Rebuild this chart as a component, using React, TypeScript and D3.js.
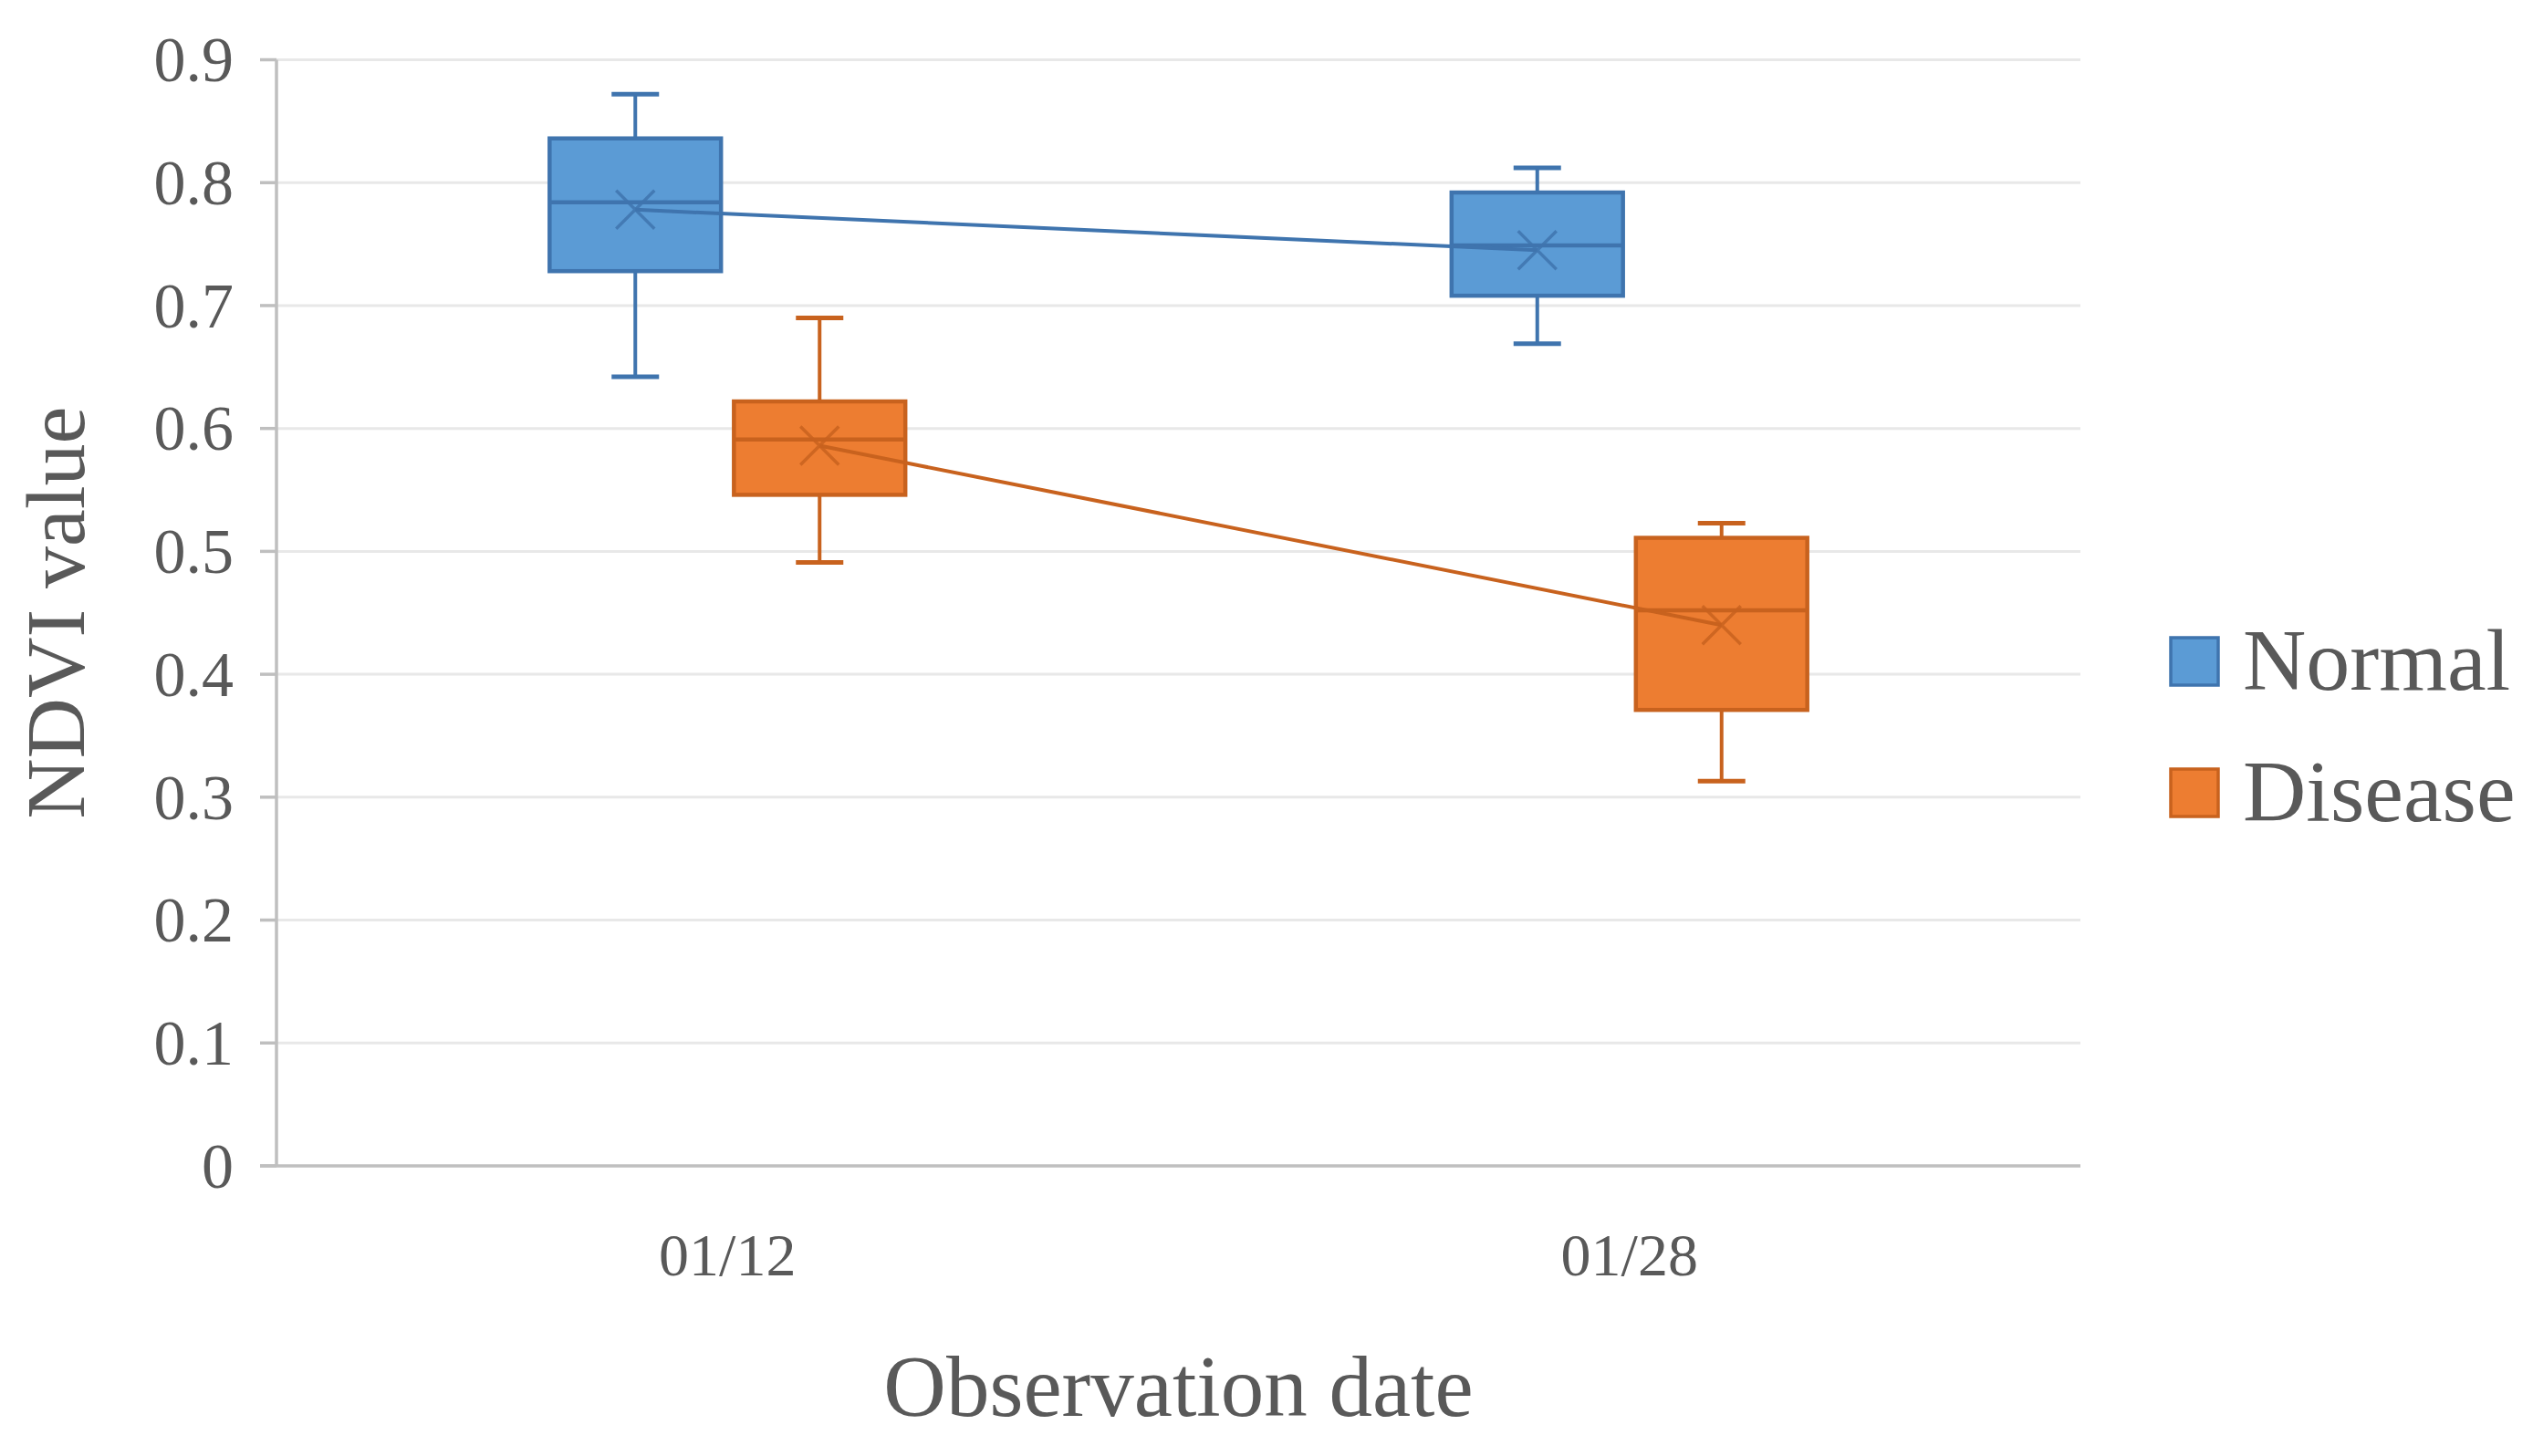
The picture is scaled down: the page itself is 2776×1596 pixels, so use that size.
import React, { useEffect, useRef } from 'react';
import * as d3 from 'd3';

// categories and series
const dates = ['01/12', '01/28'];
const seriesNames = ['Normal', 'Disease'];
const seriesFill = ['#5B9BD5', '#ED7D31'];
const seriesStroke = ['#3F74AE', '#C8621E'];

// box plot values (per date)
const normalMax = [0.872, 0.812];
const normalQ3 = [0.836, 0.792];
const normalMedian = [0.784, 0.749];
const normalMean = [0.778, 0.745];
const normalQ1 = [0.728, 0.708];
const normalMin = [0.642, 0.669];

const diseaseMax = [0.69, 0.523];
const diseaseQ3 = [0.622, 0.511];
const diseaseMedian = [0.591, 0.452];
const diseaseMean = [0.586, 0.44];
const diseaseQ1 = [0.546, 0.371];
const diseaseMin = [0.491, 0.313];

const yTicks = [0, 0.1, 0.2, 0.3, 0.4, 0.5, 0.6, 0.7, 0.8, 0.9];

const W = 2776;
const H = 1596;
const FONT = '"Liberation Serif", "DejaVu Serif", serif';
const TEXT = '#595959';

const App: React.FC = () => {
  const svgRef = useRef<SVGSVGElement>(null);

  useEffect(() => {
    document.body.style.margin = '0';
    if (!svgRef.current) return;
    const svg = d3.select(svgRef.current);
    svg.selectAll('*').remove();

    const left = 303;
    const right = 2280;
    const top = 65.5;
    const bottom = 1278;

    const x0 = d3.scaleBand<string>().domain(dates).range([left, right]);
    const bw = x0.bandwidth();
    const x1 = d3.scaleBand<string>()
      .domain(seriesNames)
      .range([bw / 2 - 202, bw / 2 + 202])
      .paddingInner(0.07)
      .paddingOuter(0.035);
    const y = d3.scaleLinear().domain([0, 0.9]).range([bottom, top]);

    svg.append('rect').attr('width', W).attr('height', H).attr('fill', '#ffffff');

    // gridlines
    svg.append('g')
      .selectAll('line')
      .data(yTicks.filter(t => t > 0))
      .join('line')
      .attr('x1', left)
      .attr('x2', right)
      .attr('y1', d => y(d))
      .attr('y2', d => y(d))
      .attr('stroke', '#e8e8e8')
      .attr('stroke-width', 3);

    // y axis
    const yAxis = svg.append('g');
    yAxis.append('line')
      .attr('x1', left).attr('x2', left)
      .attr('y1', top).attr('y2', bottom)
      .attr('stroke', '#bfbfbf').attr('stroke-width', 3.5);
    yAxis.selectAll('line.tick')
      .data(yTicks)
      .join('line')
      .attr('class', 'tick')
      .attr('x1', left - 18).attr('x2', left)
      .attr('y1', d => y(d)).attr('y2', d => y(d))
      .attr('stroke', '#bfbfbf').attr('stroke-width', 3.5);
    yAxis.selectAll('text')
      .data(yTicks)
      .join('text')
      .attr('x', 256)
      .attr('y', d => y(d))
      .attr('dy', '0.34em')
      .attr('text-anchor', 'end')
      .style('font-family', FONT)
      .style('font-size', '70px')
      .style('fill', TEXT)
      .text(d => (d === 0 ? '0' : d3.format('.1f')(d)));

    // x axis
    svg.append('line')
      .attr('x1', left - 18).attr('x2', right)
      .attr('y1', bottom).attr('y2', bottom)
      .attr('stroke', '#bfbfbf').attr('stroke-width', 3.5);
    svg.append('g')
      .selectAll('text')
      .data(dates)
      .join('text')
      .attr('x', d => (x0(d) as number) + bw / 2)
      .attr('y', 1398)
      .attr('text-anchor', 'middle')
      .style('font-family', FONT)
      .style('font-size', '66px')
      .style('fill', TEXT)
      .text(d => d);

    // axis titles
    svg.append('text')
      .attr('x', (left + right) / 2)
      .attr('y', 1552)
      .attr('text-anchor', 'middle')
      .style('font-family', FONT)
      .style('font-size', '95px')
      .style('fill', TEXT)
      .text('Observation date');
    svg.append('text')
      .attr('transform', `translate(92, ${(top + bottom) / 2}) rotate(-90)`)
      .attr('text-anchor', 'middle')
      .style('font-family', FONT)
      .style('font-size', '92px')
      .style('fill', TEXT)
      .text('NDVI value');

    const stats = [
      { min: normalMin, q1: normalQ1, med: normalMedian, mean: normalMean, q3: normalQ3, max: normalMax },
      { min: diseaseMin, q1: diseaseQ1, med: diseaseMedian, mean: diseaseMean, q3: diseaseQ3, max: diseaseMax }
    ];
    const boxW = x1.bandwidth();
    const capW = 52;
    const mk = 21;

    seriesNames.forEach((name, si) => {
      const s = stats[si];
      const g = svg.append('g');
      const cx = (d: string) => (x0(d) as number) + (x1(name) as number) + boxW / 2;

      dates.forEach((d, i) => {
        const c = cx(d);
        // whiskers
        g.append('line').attr('x1', c).attr('x2', c).attr('y1', y(s.max[i])).attr('y2', y(s.q3[i]))
          .attr('stroke', seriesStroke[si]).attr('stroke-width', 4);
        g.append('line').attr('x1', c).attr('x2', c).attr('y1', y(s.q1[i])).attr('y2', y(s.min[i]))
          .attr('stroke', seriesStroke[si]).attr('stroke-width', 4);
        g.append('line').attr('x1', c - capW / 2).attr('x2', c + capW / 2).attr('y1', y(s.max[i])).attr('y2', y(s.max[i]))
          .attr('stroke', seriesStroke[si]).attr('stroke-width', 5);
        g.append('line').attr('x1', c - capW / 2).attr('x2', c + capW / 2).attr('y1', y(s.min[i])).attr('y2', y(s.min[i]))
          .attr('stroke', seriesStroke[si]).attr('stroke-width', 5);
        // box
        g.append('rect')
          .attr('x', c - boxW / 2)
          .attr('y', y(s.q3[i]))
          .attr('width', boxW)
          .attr('height', y(s.q1[i]) - y(s.q3[i]))
          .attr('fill', seriesFill[si])
          .attr('stroke', seriesStroke[si])
          .attr('stroke-width', 4.5);
        // median
        g.append('line').attr('x1', c - boxW / 2).attr('x2', c + boxW / 2).attr('y1', y(s.med[i])).attr('y2', y(s.med[i]))
          .attr('stroke', seriesStroke[si]).attr('stroke-width', 4.5);
      });

      // mean line
      const line = d3.line<number>()
        .x((_, i) => cx(dates[i]))
        .y(v => y(v));
      g.append('path')
        .attr('d', line(s.mean) as string)
        .attr('fill', 'none')
        .attr('stroke', seriesStroke[si])
        .attr('stroke-width', 4);

      // mean markers
      dates.forEach((d, i) => {
        const c = cx(d);
        const m = y(s.mean[i]);
        g.append('path')
          .attr('d', `M${c - mk},${m - mk}L${c + mk},${m + mk}M${c - mk},${m + mk}L${c + mk},${m - mk}`)
          .attr('stroke', seriesStroke[si])
          .attr('stroke-opacity', 0.85)
          .attr('stroke-width', 3.5)
          .attr('fill', 'none');
      });
    });

    // legend
    const legend = svg.append('g');
    seriesNames.forEach((name, i) => {
      const cy = 725 + i * 144;
      legend.append('rect')
        .attr('x', 2379).attr('y', cy - 26)
        .attr('width', 52).attr('height', 52)
        .attr('fill', seriesFill[i])
        .attr('stroke', seriesStroke[i])
        .attr('stroke-width', 3.5);
      legend.append('text')
        .attr('x', 2458)
        .attr('y', cy + 31)
        .style('font-family', FONT)
        .style('font-size', '96px')
        .style('fill', TEXT)
        .text(name);
    });
  }, []);

  return <svg ref={svgRef} width={W} height={H} style={{ display: 'block' }} />;
};

export default App;
